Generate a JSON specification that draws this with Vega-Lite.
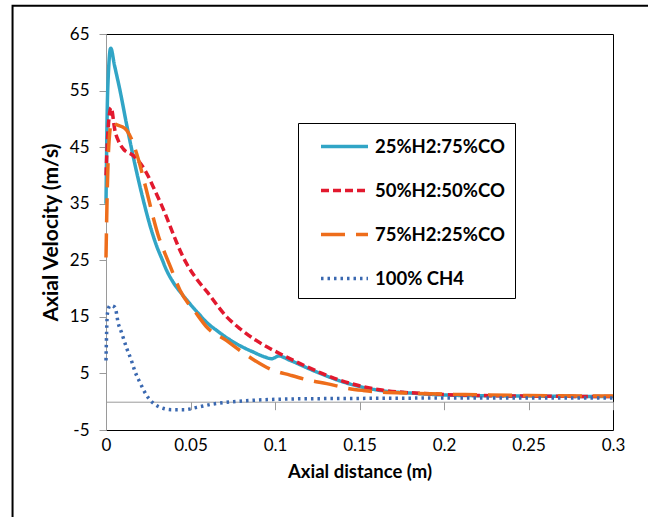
{
  "$schema": "https://vega.github.io/schema/vega-lite/v6.json",
  "width": 507,
  "height": 396,
  "autosize": "none",
  "padding": {"left": 106, "top": 34, "right": 35, "bottom": 87},
  "background": "white",
  "config": {
    "view": {"stroke": "black", "strokeWidth": 1},
    "font": "Lato, sans-serif"
  },
  "datasets": {
    "curves": [
      {"s": "25%H2:75%CO", "x": 0, "y": 35},
      {"s": "25%H2:75%CO", "x": 0.001, "y": 55},
      {"s": "25%H2:75%CO", "x": 0.0028, "y": 62.5},
      {"s": "25%H2:75%CO", "x": 0.005, "y": 59.5},
      {"s": "25%H2:75%CO", "x": 0.0083, "y": 55},
      {"s": "25%H2:75%CO", "x": 0.0122, "y": 49},
      {"s": "25%H2:75%CO", "x": 0.0162, "y": 43.2},
      {"s": "25%H2:75%CO", "x": 0.0221, "y": 35.6},
      {"s": "25%H2:75%CO", "x": 0.026, "y": 31.2},
      {"s": "25%H2:75%CO", "x": 0.03, "y": 27.5},
      {"s": "25%H2:75%CO", "x": 0.033, "y": 25.3},
      {"s": "25%H2:75%CO", "x": 0.0359, "y": 23.2},
      {"s": "25%H2:75%CO", "x": 0.04, "y": 21},
      {"s": "25%H2:75%CO", "x": 0.045, "y": 19},
      {"s": "25%H2:75%CO", "x": 0.0497, "y": 17.3},
      {"s": "25%H2:75%CO", "x": 0.055, "y": 15.5},
      {"s": "25%H2:75%CO", "x": 0.06, "y": 13.9},
      {"s": "25%H2:75%CO", "x": 0.0655, "y": 12.6},
      {"s": "25%H2:75%CO", "x": 0.072, "y": 11.2},
      {"s": "25%H2:75%CO", "x": 0.0793, "y": 9.9},
      {"s": "25%H2:75%CO", "x": 0.087, "y": 8.8},
      {"s": "25%H2:75%CO", "x": 0.094, "y": 7.9},
      {"s": "25%H2:75%CO", "x": 0.098, "y": 7.6},
      {"s": "25%H2:75%CO", "x": 0.1, "y": 7.8},
      {"s": "25%H2:75%CO", "x": 0.102, "y": 8.1},
      {"s": "25%H2:75%CO", "x": 0.109, "y": 7.3},
      {"s": "25%H2:75%CO", "x": 0.1227, "y": 5.5},
      {"s": "25%H2:75%CO", "x": 0.1424, "y": 3.3},
      {"s": "25%H2:75%CO", "x": 0.162, "y": 2.0},
      {"s": "25%H2:75%CO", "x": 0.1818, "y": 1.5},
      {"s": "25%H2:75%CO", "x": 0.2114, "y": 1.1},
      {"s": "25%H2:75%CO", "x": 0.25, "y": 1.0},
      {"s": "25%H2:75%CO", "x": 0.3, "y": 0.9},
      {"s": "50%H2:50%CO", "x": 0, "y": 40},
      {"s": "50%H2:50%CO", "x": 0.001, "y": 47},
      {"s": "50%H2:50%CO", "x": 0.003, "y": 52},
      {"s": "50%H2:50%CO", "x": 0.0053, "y": 47.9},
      {"s": "50%H2:50%CO", "x": 0.0075, "y": 46},
      {"s": "50%H2:50%CO", "x": 0.0102, "y": 44.7},
      {"s": "50%H2:50%CO", "x": 0.0162, "y": 43.5},
      {"s": "50%H2:50%CO", "x": 0.0231, "y": 40.9},
      {"s": "50%H2:50%CO", "x": 0.029, "y": 37.3},
      {"s": "50%H2:50%CO", "x": 0.0359, "y": 32.6},
      {"s": "50%H2:50%CO", "x": 0.0389, "y": 30.3},
      {"s": "50%H2:50%CO", "x": 0.0448, "y": 26.1},
      {"s": "50%H2:50%CO", "x": 0.0477, "y": 24.4},
      {"s": "50%H2:50%CO", "x": 0.0536, "y": 21.7},
      {"s": "50%H2:50%CO", "x": 0.0596, "y": 19.5},
      {"s": "50%H2:50%CO", "x": 0.0714, "y": 15.0},
      {"s": "50%H2:50%CO", "x": 0.0793, "y": 12.9},
      {"s": "50%H2:50%CO", "x": 0.088, "y": 11.0},
      {"s": "50%H2:50%CO", "x": 0.097, "y": 9.4},
      {"s": "50%H2:50%CO", "x": 0.1049, "y": 8.2},
      {"s": "50%H2:50%CO", "x": 0.1187, "y": 6.2},
      {"s": "50%H2:50%CO", "x": 0.1385, "y": 3.8},
      {"s": "50%H2:50%CO", "x": 0.162, "y": 2.1},
      {"s": "50%H2:50%CO", "x": 0.1917, "y": 1.4},
      {"s": "50%H2:50%CO", "x": 0.22, "y": 1.1},
      {"s": "50%H2:50%CO", "x": 0.25, "y": 1.0},
      {"s": "50%H2:50%CO", "x": 0.3, "y": 0.9},
      {"s": "75%H2:25%CO", "x": 0, "y": 25.5},
      {"s": "75%H2:25%CO", "x": 0.0008, "y": 38},
      {"s": "75%H2:25%CO", "x": 0.0018, "y": 46},
      {"s": "75%H2:25%CO", "x": 0.0034, "y": 49.5},
      {"s": "75%H2:25%CO", "x": 0.006, "y": 49},
      {"s": "75%H2:25%CO", "x": 0.0112, "y": 48.3},
      {"s": "75%H2:25%CO", "x": 0.015, "y": 46.5},
      {"s": "75%H2:25%CO", "x": 0.0182, "y": 43.8},
      {"s": "75%H2:25%CO", "x": 0.024, "y": 37.3},
      {"s": "75%H2:25%CO", "x": 0.028, "y": 32.5},
      {"s": "75%H2:25%CO", "x": 0.031, "y": 29.3},
      {"s": "75%H2:25%CO", "x": 0.0345, "y": 26.5},
      {"s": "75%H2:25%CO", "x": 0.0379, "y": 24.0},
      {"s": "75%H2:25%CO", "x": 0.0438, "y": 19.7},
      {"s": "75%H2:25%CO", "x": 0.0537, "y": 15.5},
      {"s": "75%H2:25%CO", "x": 0.0596, "y": 13.2},
      {"s": "75%H2:25%CO", "x": 0.0714, "y": 10.8},
      {"s": "75%H2:25%CO", "x": 0.0793, "y": 9.05},
      {"s": "75%H2:25%CO", "x": 0.088, "y": 7.3},
      {"s": "75%H2:25%CO", "x": 0.097, "y": 5.8},
      {"s": "75%H2:25%CO", "x": 0.1089, "y": 4.7},
      {"s": "75%H2:25%CO", "x": 0.1207, "y": 3.75},
      {"s": "75%H2:25%CO", "x": 0.1306, "y": 3.2},
      {"s": "75%H2:25%CO", "x": 0.1424, "y": 2.4},
      {"s": "75%H2:25%CO", "x": 0.152, "y": 2.0},
      {"s": "75%H2:25%CO", "x": 0.162, "y": 1.7},
      {"s": "75%H2:25%CO", "x": 0.1818, "y": 1.5},
      {"s": "75%H2:25%CO", "x": 0.2055, "y": 1.3},
      {"s": "75%H2:25%CO", "x": 0.25, "y": 1.1},
      {"s": "75%H2:25%CO", "x": 0.3, "y": 1.0},
      {"s": "100% CH4", "x": 0, "y": 7.3},
      {"s": "100% CH4", "x": 0.0008, "y": 15.5},
      {"s": "100% CH4", "x": 0.0024, "y": 17.0},
      {"s": "100% CH4", "x": 0.0053, "y": 16.7},
      {"s": "100% CH4", "x": 0.0073, "y": 13.8},
      {"s": "100% CH4", "x": 0.0091, "y": 12.3},
      {"s": "100% CH4", "x": 0.0122, "y": 9.5},
      {"s": "100% CH4", "x": 0.015, "y": 7.3},
      {"s": "100% CH4", "x": 0.0172, "y": 5.3},
      {"s": "100% CH4", "x": 0.0201, "y": 3.4},
      {"s": "100% CH4", "x": 0.0241, "y": 1.1},
      {"s": "100% CH4", "x": 0.0274, "y": -0.1},
      {"s": "100% CH4", "x": 0.031, "y": -0.85},
      {"s": "100% CH4", "x": 0.0389, "y": -1.4},
      {"s": "100% CH4", "x": 0.0467, "y": -1.4},
      {"s": "100% CH4", "x": 0.0537, "y": -1.0},
      {"s": "100% CH4", "x": 0.0635, "y": -0.4},
      {"s": "100% CH4", "x": 0.0753, "y": 0.0},
      {"s": "100% CH4", "x": 0.09, "y": 0.3},
      {"s": "100% CH4", "x": 0.103, "y": 0.45},
      {"s": "100% CH4", "x": 0.13, "y": 0.55},
      {"s": "100% CH4", "x": 0.16, "y": 0.6},
      {"s": "100% CH4", "x": 0.2, "y": 0.65},
      {"s": "100% CH4", "x": 0.25, "y": 0.65},
      {"s": "100% CH4", "x": 0.3, "y": 0.65}
    ]
  },
  "resolve": {"axis": {"x": "independent"}},
  "layer": [
    {
      "data": {"values": [{"frame": 1}]},
      "mark": {"type": "rect", "filled": false, "stroke": "black", "strokeWidth": 2, "clip": false},
      "encoding": {
        "x": {"datum": -0.0553, "type": "quantitative", "scale": {"domain": [0, 0.3], "nice": false, "zero": false}, "axis": null},
        "x2": {"datum": 0.3215},
        "y": {"datum": 70.0, "type": "quantitative", "scale": {"domain": [-5, 65], "nice": false, "zero": false},
          "axis": {
            "title": "Axial Velocity (m/s)", "values": [-5, 5, 15, 25, 35, 45, 55, 65],
            "labelExpr": "'' + datum.value",
            "grid": false, "domain": true, "domainColor": "#9a9a9a", "domainWidth": 1,
            "ticks": true, "tickColor": "#9a9a9a", "tickSize": 7,
            "labelFontSize": 17, "labelColor": "black", "labelPadding": 10,
            "titleFontSize": 21, "titleFontWeight": "bold", "titleColor": "black", "titlePadding": 8
          }},
        "y2": {"datum": -22}
      }
    },
    {
      "data": {"values": [{"z": 0}]},
      "mark": {"type": "rule", "color": "#9a9a9a", "strokeWidth": 1, "opacity": 0},
      "encoding": {
        "x": {"datum": 0, "type": "quantitative", "axis": {
          "orient": "bottom", "offset": -28.3, "values": [0.05, 0.1, 0.15, 0.2, 0.25, 0.3],
          "labels": false, "title": null, "grid": false,
          "domain": true, "domainColor": "#9a9a9a", "domainWidth": 1,
          "ticks": true, "tickColor": "#9a9a9a", "tickSize": 8, "tickWidth": 1
        }}
      }
    },
    {
      "data": {"name": "curves"},
      "mark": {"type": "line", "strokeWidth": 3.5, "strokeCap": "butt", "interpolate": "monotone"},
      "encoding": {
        "x": {
          "field": "x", "type": "quantitative",
          "axis": {
            "orient": "bottom", "title": "Axial distance (m)", "values": [0, 0.05, 0.1, 0.15, 0.2, 0.25, 0.3],
            "format": "~g", "grid": false, "domain": false, "ticks": false,
            "labelFontSize": 17, "labelColor": "black", "labelPadding": 7, "labelFlush": false,
            "titleFontSize": 18.5, "titleFontWeight": "bold", "titleColor": "black", "titlePadding": 9
          }
        },
        "y": {
          "field": "y", "type": "quantitative",
          "axis": {
            "title": "Axial Velocity (m/s)", "values": [-5, 5, 15, 25, 35, 45, 55, 65],
            "labelExpr": "'' + datum.value",
            "grid": false, "domain": true, "domainColor": "#9a9a9a", "domainWidth": 1,
            "ticks": true, "tickColor": "#9a9a9a", "tickSize": 7,
            "labelFontSize": 17, "labelColor": "black", "labelPadding": 10,
            "titleFontSize": 21, "titleFontWeight": "bold", "titleColor": "black", "titlePadding": 8
          }
        },
        "color": {
          "field": "s", "type": "nominal",
          "scale": {
            "domain": ["25%H2:75%CO", "50%H2:50%CO", "75%H2:25%CO", "100% CH4"],
            "range": ["#31A5C6", "#E2192E", "#EE6D1B", "#3A68B0"]
          },
          "legend": {
            "title": null, "orient": "none", "legendX": 192, "legendY": 89,
            "symbolType": "M-2,0H2", "symbolSize": 552, "symbolStrokeWidth": 3.5,
            "labelFontSize": 18.5, "labelFontWeight": "bold", "labelColor": "black",
            "rowPadding": 21, "padding": 10, "strokeColor": "black", "fillColor": "white",
            "labelOffset": 17, "symbolOffset": 23
          }
        },
        "strokeDash": {
          "field": "s", "type": "nominal",
          "scale": {
            "domain": ["25%H2:75%CO", "50%H2:50%CO", "75%H2:25%CO", "100% CH4"],
            "range": [[1, 0], [8, 4], [24, 11], [2.5, 4]]
          },
          "legend": null
        }
      }
    }
  ]
}
